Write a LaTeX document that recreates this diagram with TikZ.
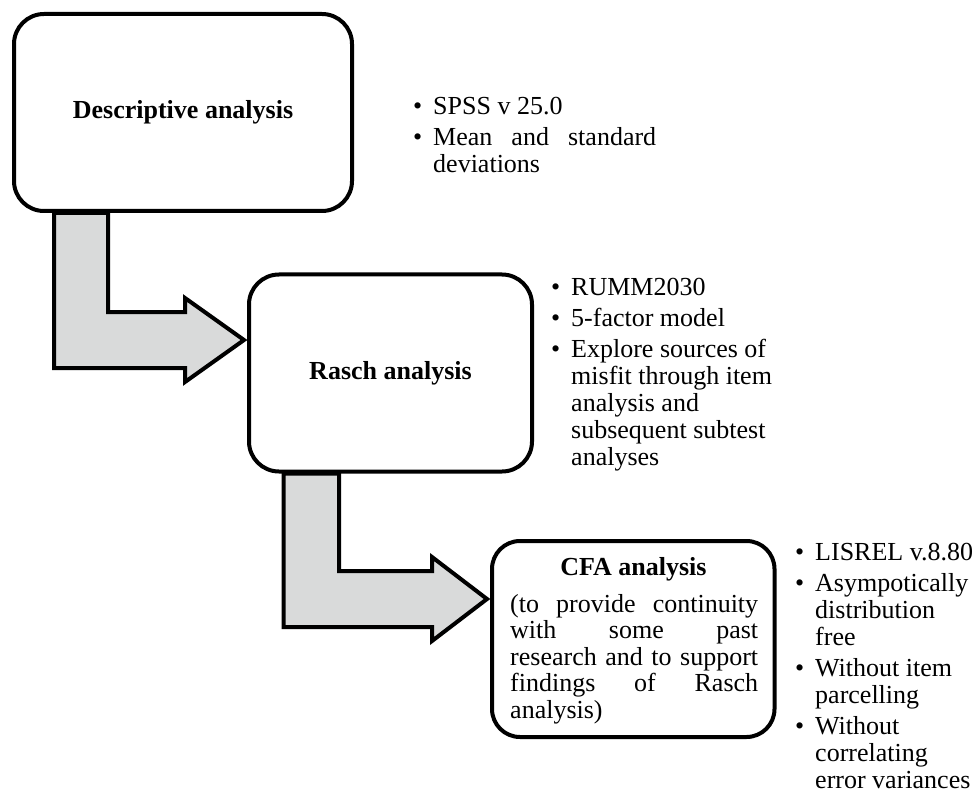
\documentclass[tikz,border=0pt]{standalone}
\usepackage{fontspec}
\setmainfont{Liberation Serif}
\usetikzlibrary{calc,backgrounds}
\definecolor{arrowgray}{HTML}{D9DADA}
\newcommand{\bitem}{\makebox[20pt][l]{\textbullet}}
\newcommand{\listsetup}{\fontsize{26}{27}\selectfont\raggedright\parindent=0pt\parskip=0pt\hangindent=20pt\hangafter=1 }
\newcommand{\itemgap}{\par\vspace{4pt}\hangindent=20pt\hangafter=1 }
\tikzset{
  stage/.style={draw=black, line width=4pt, rounded corners=30pt, fill=white,
    inner sep=0pt, font=\fontsize{26}{27}\selectfont\bfseries},
  blockarrow/.style={draw=black, line width=4pt, fill=arrowgray, line join=miter},
  notes/.style={anchor=base west, inner sep=0pt},
}
\begin{document}
\begin{tikzpicture}[x=1pt,y=-1pt]
\useasboundingbox (0,0) rectangle (973,791);

% stage boxes
\node[stage, minimum width=338pt, minimum height=197pt] (desc) at (183,112.5) {Descriptive analysis};
\node[stage, minimum width=283pt, minimum height=197pt] (rasch) at (390.5,373) {Rasch analysis};
\node[stage, rounded corners=28pt, minimum width=282.5pt, minimum height=196pt] (cfa) at (633.25,639) {};

% CFA text
\node[anchor=base, inner sep=0pt, font=\fontsize{26}{27}\selectfont\bfseries] (cfatitle) at (633.5,575) {CFA analysis};
\node[notes] (cfabody) at (510,612) {\begin{minipage}[t]{250pt}\fontsize{26}{26.5}\selectfont\parindent=0pt
\makebox[248pt][s]{(to provide continuity}\\
\makebox[248pt][s]{with some past}\\
\makebox[248pt][s]{research and to support}\\
\makebox[248pt][s]{findings of Rasch}\\
analysis)\end{minipage}};

% arrow tips
\coordinate (tip1) at ($(rasch.west)+(-3,-33)$);
\coordinate (tip2) at ($(cfa.west)+(-3,-40)$);

\begin{scope}[on background layer]
\fill[white] (0,0) rectangle (973,791);
\draw[blockarrow] (54,0 |- desc.south) -- (108,0 |- desc.south) -- (108,312) -- (185,312) -- (185,298)
  -- (tip1) -- (185,382) -- (185,368) -- (54,368) -- cycle;
\draw[blockarrow] (283.5,0 |- rasch.south) -- (339,0 |- rasch.south) -- (339,571) -- (432,571) -- (432,557)
  -- (tip2) -- (432,641) -- (432,627) -- (283.5,627) -- cycle;
\end{scope}

% notes
\node[notes] (descnotes) at (413,115) {\begin{minipage}[t]{260pt}\listsetup
\bitem SPSS v 25.0\itemgap
\bitem\makebox[223pt][s]{Mean and standard}\newline deviations\par\end{minipage}};

\node[notes] (raschnotes) at (551,295) {\begin{minipage}[t]{260pt}\listsetup
\bitem RUMM2030\itemgap
\bitem 5-factor model\itemgap
\bitem Explore sources of\newline misfit through item\newline analysis and\newline subsequent subtest\newline analyses\par\end{minipage}};

\node[notes] (cfanotes) at (795,560) {\begin{minipage}[t]{200pt}\listsetup
\bitem LISREL v.8.80\itemgap
\bitem Asympotically\newline distribution\newline free\itemgap
\bitem Without item\newline parcelling\itemgap
\bitem Without\newline correlating\newline error variances\par\end{minipage}};
\end{tikzpicture}
\end{document}
